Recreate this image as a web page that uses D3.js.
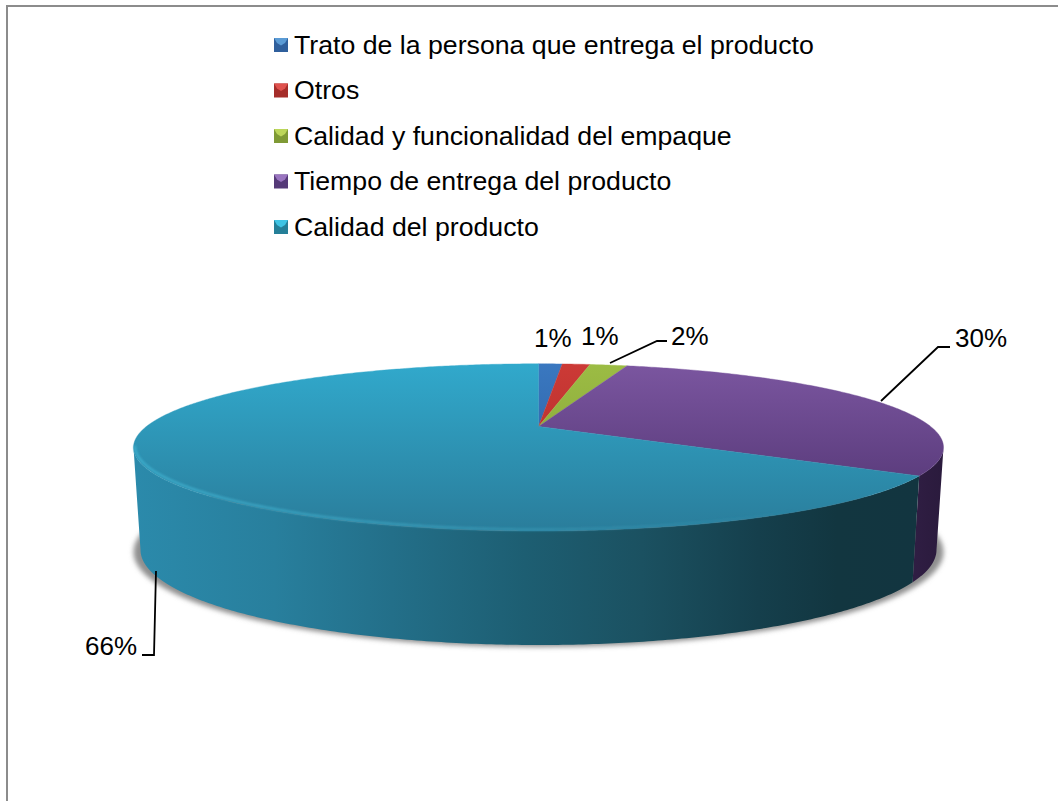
<!DOCTYPE html>
<html><head><meta charset="utf-8">
<script src="https://cdnjs.cloudflare.com/ajax/libs/d3/7.8.5/d3.min.js"></script>
<style>html,body{margin:0;padding:0;background:#fff}svg{display:block}text{font-family:"Liberation Sans",Arial,sans-serif;fill:#000}</style>
</head><body><svg id="c" width="1058" height="801"></svg>
<script>
const categories=["Trato de la persona que entrega el producto","Otros","Calidad y funcionalidad del empaque","Tiempo de entrega del producto","Calidad del producto"];
const values=[1.2,1.4,1.9,29.5,65.5];
const topColors=[["#3a78c0","#2c62a6"],["#cc3a36","#b52e2c"],["#9cbc44","#88a63a"],["#7b56a0","#5c3d7e"],["#31a9cc","#2a7d9b"]];
const swatchColors=[["#5b9bd5","#2f5f9c"],["#e0524e","#a52d2a"],["#bcd65a","#7f9a35"],["#9a75c0","#553a78"],["#3fc4e4","#257f98"]];
const sideStops={3:["#301e44","#2a1a3c"]};
const svg=d3.select("#c");
const W=1058,H=801;
svg.append("path").attr("d",d3.line()([[7,H],[7,6],[W,6]])).attr("fill","none").attr("stroke","#8c8c8c").attr("stroke-width",2);

const defs=svg.append("defs");
const blur=(id,s)=>defs.append("filter").attr("id",id).attr("x","-10%").attr("y","-20%").attr("width","120%").attr("height","140%").append("feGaussianBlur").attr("stdDeviation",s);
blur("sh",2.6);blur("rim",0.9);

// perspective projection of a circle: apex is the image of the circle's centre
const k=0.25;
const proj=(apexY,rx,front)=>{
  const A=rx*Math.sqrt(1-k*k),B=front*(1-k);
  return a=>{const u=Math.sin(a),v=-Math.cos(a),w=1/(1-k*v);return [538.5+A*u*w,apexY+B*v*w];};
};
const topP=proj(426.5,405,104.5), botP=proj(526,398,119);
const pie=d3.pie().sort(null).startAngle(0).endAngle(2*Math.PI)(values);
const arcPts=(P,a0,a1)=>{const n=Math.max(2,Math.ceil((a1-a0)/0.01));return d3.range(n+1).map(i=>P(a0+(a1-a0)*i/n));};
const line=d3.line();

// shadow
svg.append("ellipse").attr("cx",538.5).attr("cy",552).attr("rx",405).attr("ry",95).attr("fill","#8f8f8f").attr("filter","url(#sh)");

// side gradient
const g1=defs.append("linearGradient").attr("id","sideT").attr("gradientUnits","userSpaceOnUse").attr("x1",134).attr("x2",915).attr("y1",0).attr("y2",0);
[[0,"#2b8aab"],[.18,"#287f9d"],[.33,"#236f89"],[.5,"#1d5e72"],[.65,"#1b5161"],[.8,"#153f4c"],[.9,"#123640"],[1,"#123540"]].forEach(s=>g1.append("stop").attr("offset",s[0]).attr("stop-color",s[1]));
const g3=defs.append("linearGradient").attr("id","sideP").attr("gradientUnits","userSpaceOnUse").attr("x1",910).attr("x2",945).attr("y1",0).attr("y2",0);
g3.append("stop").attr("offset",0).attr("stop-color",sideStops[3][0]);g3.append("stop").attr("offset",1).attr("stop-color",sideStops[3][1]);

// visible side wall
const visA=Math.acos(-k), visB=2*Math.PI-visA;
pie.forEach((d,i)=>{
  const a0=Math.max(d.startAngle,visA),a1=Math.min(d.endAngle,visB);
  if(a1<=a0)return;
  const pts=arcPts(topP,a0,a1).concat(arcPts(botP,a0,a1).reverse());
  svg.append("path").attr("d",line(pts)+"Z").attr("fill",i===4?"url(#sideT)":"url(#sideP)");
});

// top face
pie.forEach((d,i)=>{
  const id="top"+i;
  const g=defs.append("linearGradient").attr("id",id).attr("gradientUnits","userSpaceOnUse").attr("x1",0).attr("x2",0).attr("y1",363).attr("y2",i===4?531:478);
  g.append("stop").attr("offset",0).attr("stop-color",topColors[i][0]);
  g.append("stop").attr("offset",1).attr("stop-color",topColors[i][1]);
  const pts=[[538.5,426.5]].concat(arcPts(topP,d.startAngle,d.endAngle));
  svg.append("path").attr("d",line(pts)+"Z").attr("fill","url(#"+id+")").attr("stroke","url(#"+id+")").attr("stroke-width",.4);
});

// bevel rim along the front-left edge
const rimG=defs.append("linearGradient").attr("id","rimG").attr("gradientUnits","userSpaceOnUse").attr("x1",134).attr("x2",800).attr("y1",0).attr("y2",0);
[[0,"#3fb0cf",.9],[.5,"#3fa8c4",.55],[1,"#3fa8c4",0]].forEach(s=>rimG.append("stop").attr("offset",s[0]).attr("stop-color",s[1]).attr("stop-opacity",s[2]));
const d4=pie[4];
svg.append("path").attr("d",line(arcPts(topP,d4.startAngle+0.05,visB).map(p=>[p[0]+(p[0]<300?1.5:0),p[1]-1.5])))
  .attr("fill","none").attr("stroke","url(#rimG)").attr("stroke-width",2.4).attr("filter","url(#rim)");

// legend
const y=d3.scalePoint().domain(categories).range([45,227]);
const lg=svg.append("g").selectAll("g").data(categories).join("g").attr("transform",c=>`translate(274,${y(c)-7})`);
lg.append("rect").attr("width",14).attr("height",14).attr("fill",(c,i)=>swatchColors[i][1]);
lg.append("path").attr("d",line([[0,0],[14,0],[11,5],[7,7.5],[3,5]])+"Z").attr("fill",(c,i)=>swatchColors[i][0]);
lg.append("text").attr("x",20).attr("y",15.5).attr("font-size",26.7).text(c=>c);

// data labels and leaders
const fmt=v=>Math.round(v)+"%";
const labelPos=[[534,347,null],[581,345,null],[671,345,[[610,363],[657,341],[667,341]]],[955,347,[[881,401],[938,347],[950,347]]],[85,655,[[156,571],[154,655],[142,655]]]];
values.forEach((v,i)=>{
  const p=labelPos[i];
  svg.append("text").attr("x",p[0]).attr("y",p[1]).attr("font-size",26).text(fmt(v));
  if(p[2])svg.append("path").attr("d",line(p[2])).attr("fill","none").attr("stroke","#000").attr("stroke-width",1.8);
});
</script></body></html>
